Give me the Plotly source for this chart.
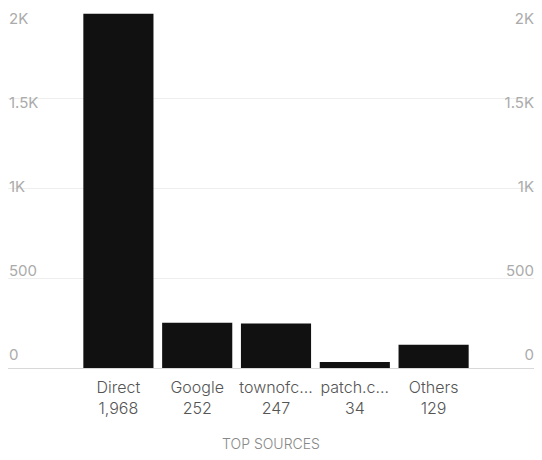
import plotly.graph_objects as go

categories = ["Direct", "Google", "townofc...", "patch.c...", "Others"]
values = [1968, 252, 247, 34, 129]
value_labels = ["1,968", "252", "247", "34", "129"]
y_tick_vals = [0, 500, 1000, 1500, 2000]
y_tick_text = ["0", "500", "1K", "1.5K", "2K"]
x_title = "TOP SOURCES"

# the page body adds an 8px margin, so the figure is sized to fit the window
W, H = 526, 444
L, R, T, B = 0, 0, 0, 84
plot_h = H - T - B
plot_w = W - L - R

# label axes: a slightly compressed scale so labels sit as in the reference
p0, p2k = 347, 11  # figure-pixel targets (from top) of '0' and '2K' labels
bottom = H - B
f0 = (bottom - p0) / plot_h
f2 = (bottom - p2k) / plot_h
D = 2000 / (f2 - f0)
R0 = -f0 * D
lab_range = [R0, R0 + D]

xpos = list(range(len(categories)))
ticktext = [f"{c}<br>{v}" for c, v in zip(categories, value_labels)]

fig = go.Figure()
fig.add_trace(go.Bar(x=xpos, y=values, marker=dict(color="#111111", line=dict(width=0)),
                     width=0.89, hoverinfo="skip"))
fig.add_trace(go.Scatter(x=[], y=[], yaxis="y2", showlegend=False))
fig.add_trace(go.Scatter(x=[], y=[], yaxis="y3", showlegend=False))

FONT = "Inter, Roboto, sans-serif"
lab_font = dict(family=FONT, size=15, color="#ababab")
fig.update_layout(
    width=W, height=H,
    margin=dict(l=L, r=R, t=T, b=B),
    paper_bgcolor="white", plot_bgcolor="white",
    showlegend=False,
    bargap=0.1,
    xaxis=dict(
        range=[-1.401, 5.274],
        tickvals=xpos, ticktext=ticktext,
        tickfont=dict(family=FONT, size=16, color="#555555", weight=300),
        ticklabelstandoff=5,
        showgrid=False, zeroline=False,
        showline=True, linecolor="#d8d8d8", linewidth=1,
        ticks="", ticklen=0,
        title=dict(text=x_title, standoff=22,
                   font=dict(family=FONT, size=14, color="#888888", weight=300)),
    ),
    yaxis=dict(
        range=[0, 2000],
        tickvals=y_tick_vals, showticklabels=False,
        showgrid=True, gridcolor="#eeeeee", gridwidth=1,
        zeroline=False, showline=False, ticks="",
    ),
    # left-hand labels: drawn to the right of a free axis at the left edge
    yaxis2=dict(
        overlaying="y", side="right", anchor="free", position=0.0,
        range=lab_range, tickvals=y_tick_vals, ticktext=y_tick_text,
        ticklabelposition="outside", tickfont=lab_font, automargin=False,
        showgrid=False, zeroline=False, showline=False, ticks="",
    ),
    # right-hand labels: drawn to the left of a free axis at the right edge
    yaxis3=dict(
        overlaying="y", side="left", anchor="free", position=1.0,
        range=lab_range, tickvals=y_tick_vals, ticktext=y_tick_text,
        ticklabelposition="outside", tickfont=lab_font, automargin=False,
        showgrid=False, zeroline=False, showline=False, ticks="",
    ),
)

fig.write_html("out.html")
